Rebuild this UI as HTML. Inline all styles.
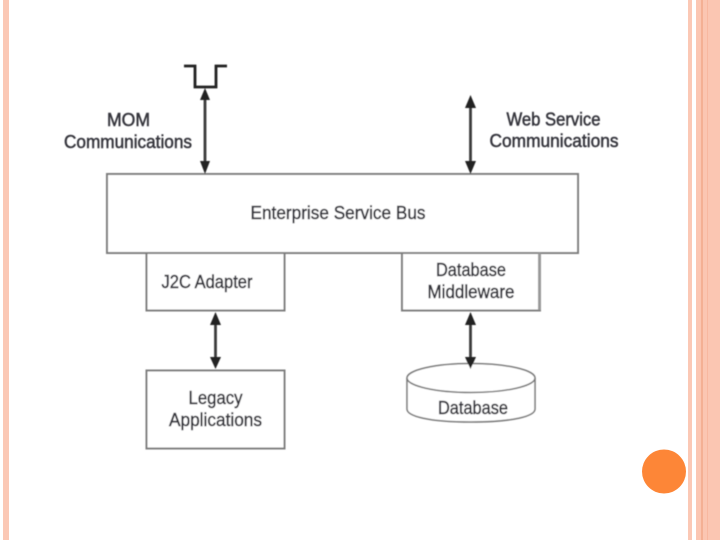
<!DOCTYPE html>
<html>
<head>
<meta charset="utf-8">
<style>
html,body{margin:0;padding:0;background:#fff;width:720px;height:540px;overflow:hidden}
svg{display:block}
text{font-family:"Liberation Sans",sans-serif;font-size:18px;fill:#35353c;text-anchor:middle;stroke:#35353c;stroke-width:.5}
</style>
</head>
<body>
<svg width="720" height="540" viewBox="0 0 720 540" xmlns="http://www.w3.org/2000/svg">
<defs>
<filter id="b" x="-5%" y="-5%" width="110%" height="110%"><feGaussianBlur stdDeviation="0.45"/></filter>
</defs>
<!-- side bars -->
<rect x="3" y="0" width="6" height="540" fill="#fbc8b5"/>
<rect x="688" y="0" width="4" height="540" fill="#fbc8b5"/>
<rect x="696" y="0" width="24" height="540" fill="#fbc6b2"/>
<rect x="701.5" y="0" width="1" height="540" fill="#ee9a75"/>
<rect x="707" y="0" width="1" height="540" fill="#f8b8a0"/>
<g filter="url(#b)">
<!-- boxes -->
<g fill="#fff" stroke="#7d7d7d" stroke-width="2">
<rect x="107" y="174" width="471" height="79"/>
<rect x="146.500" y="253" width="138" height="57.500"/>
<rect x="402" y="253" width="138" height="57.500"/>
<rect x="146.500" y="370.500" width="138" height="78"/>
</g>
<rect x="538" y="253" width="3" height="57" fill="#999"/>
<!-- database -->
<path d="M407 378V409C407 416 428 422 471 422C514 422 535 416 535 409V378" fill="#fff" stroke="#777" stroke-width="1.500"/>
<ellipse cx="471" cy="378" rx="64" ry="14.500" fill="#fff" stroke="#777" stroke-width="1.500"/>
<!-- MOM symbol -->
<path d="M184 66H195V87H216V66H227" fill="none" stroke="#222" stroke-width="2.800"/>
<!-- arrows -->
<g stroke="#3a3a3a" stroke-width="2.800">
<line x1="205" y1="95" x2="205" y2="165"/>
<line x1="470.500" y1="103" x2="470.500" y2="165"/>
<line x1="215.500" y1="322" x2="215.500" y2="360"/>
<line x1="470.500" y1="322" x2="470.500" y2="360"/>
</g>
<g fill="#222">
<path d="M205 88L210 100H200Z"/><path d="M205 174L200 161H210Z"/>
<path d="M470.500 95L476 108H465Z"/><path d="M470.500 174L465 161H476Z"/>
<path d="M215.500 312L221 325H210Z"/><path d="M215.500 369L210 357H221Z"/>
<path d="M470.500 312L476 325H465Z"/><path d="M470.500 369L465 357H476Z"/>
</g>
<!-- labels -->
<text x="128.500" y="126" textLength="43" lengthAdjust="spacingAndGlyphs">MOM</text>
<text x="128" y="148" textLength="128" lengthAdjust="spacingAndGlyphs">Communications</text>
<text x="553.500" y="125.500" textLength="94" lengthAdjust="spacingAndGlyphs">Web Service</text>
<text x="554" y="147" textLength="129" lengthAdjust="spacingAndGlyphs">Communications</text>
<text x="338" y="219" textLength="175" lengthAdjust="spacingAndGlyphs">Enterprise Service Bus</text>
<text x="207" y="288" textLength="91" lengthAdjust="spacingAndGlyphs">J2C Adapter</text>
<text x="471" y="276" textLength="70" lengthAdjust="spacingAndGlyphs">Database</text>
<text x="471" y="298" textLength="87" lengthAdjust="spacingAndGlyphs">Middleware</text>
<text x="215.500" y="404" textLength="54" lengthAdjust="spacingAndGlyphs">Legacy</text>
<text x="215.500" y="426" textLength="93" lengthAdjust="spacingAndGlyphs">Applications</text>
<text x="473" y="414" textLength="70" lengthAdjust="spacingAndGlyphs">Database</text>
</g>
<!-- orange dot -->
<circle cx="664" cy="471.500" r="22" fill="#fd8637"/>
</svg>
</body>
</html>
